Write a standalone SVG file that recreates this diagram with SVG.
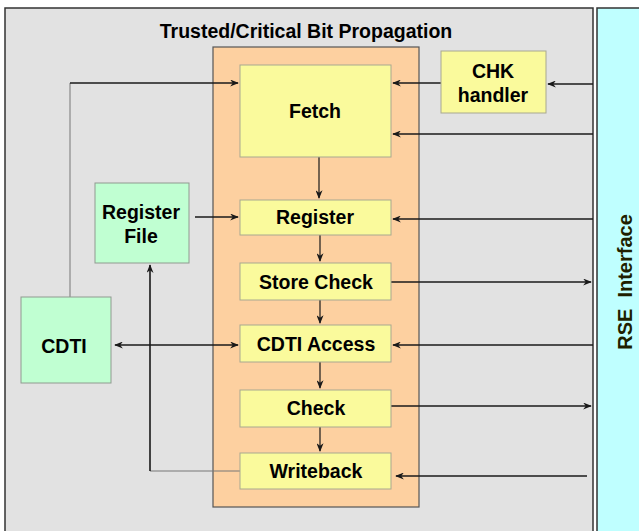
<svg xmlns="http://www.w3.org/2000/svg" width="639" height="531" viewBox="0 0 639 531">
<style>
text{font-family:"Liberation Sans",Arial,sans-serif;font-weight:bold;fill:#000;text-anchor:middle}
.t{font-size:19.5px}
.st{fill:#fafa9c;stroke:#a8a890;stroke-width:1}
.gr{fill:#c0ffd2;stroke:#909a90;stroke-width:1}
.ln{fill:none;stroke:#1a1a1a;stroke-width:1.6}
.thin{fill:none;stroke:#777;stroke-width:1}
</style>
<defs>
<marker id="ah" viewBox="0 0 10 8" refX="9" refY="4" markerWidth="9" markerHeight="7" markerUnits="userSpaceOnUse" orient="auto-start-reverse">
<path d="M0,0 L10,4 L0,8 L3,4 z" fill="#1a1a1a"/>
</marker>
</defs>
<rect width="639" height="531" fill="#fff"/>
<g id="frame">
<rect x="5" y="8" width="588" height="535" fill="#e2e2e2" stroke="#333" stroke-width="1.5"/>
<text class="t" x="306" y="38">Trusted/Critical Bit Propagation</text>
</g>
<g id="rse">
<rect x="597" y="8" width="50" height="535" fill="#bfffff" stroke="#333" stroke-width="1.5"/>
<text class="t" xml:space="preserve" transform="translate(632,282) rotate(-90)" style="fill:#1f1f00;font-size:20px">RSE  Interface</text>
</g>
<g id="pipeline">
<rect x="213" y="47" width="206" height="460" fill="#fdd0a0" stroke="#555" stroke-width="1.2"/>
</g>
<g id="connectors">
<path class="thin" d="M70,297 V83"/>
<path class="ln" d="M70,83 H238" marker-end="url(#ah)"/>
<path class="ln" d="M441,83 H393" marker-end="url(#ah)"/>
<path class="ln" d="M593,84 H548" marker-end="url(#ah)"/>
<path class="ln" d="M593,134 H393" marker-end="url(#ah)"/>
<path class="ln" d="M319,157 V198" marker-end="url(#ah)" style="stroke-width:1.2"/>
<path class="ln" d="M195,217 H238" marker-end="url(#ah)"/>
<path class="ln" d="M593,219 H393" marker-end="url(#ah)"/>
<path class="ln" d="M320,235 V261" marker-end="url(#ah)" style="stroke-width:1.2"/>
<path class="ln" d="M391,282 H591" marker-end="url(#ah)"/>
<path class="ln" d="M320,300 V323" marker-end="url(#ah)" style="stroke-width:1.2"/>
<path class="ln" d="M115,345 H238" marker-start="url(#ah)" marker-end="url(#ah)"/>
<path class="ln" d="M593,345 H393" marker-end="url(#ah)"/>
<path class="ln" d="M320,362 V388" marker-end="url(#ah)" style="stroke-width:1.2"/>
<path class="ln" d="M391,406 H591" marker-end="url(#ah)"/>
<path class="ln" d="M320,427 V451" marker-end="url(#ah)" style="stroke-width:1.2"/>
<path class="thin" d="M240,471 H150"/>
<path class="ln" d="M150,471 V265" marker-end="url(#ah)"/>
<path class="ln" d="M587,476 H396" marker-end="url(#ah)"/>
</g>
<g id="fetch">
<rect class="st" x="240" y="65" width="151" height="92"/>
<text class="t" x="315" y="118">Fetch</text>
</g>
<g id="chk">
<rect class="st" x="441" y="51" width="105" height="62"/>
<text class="t" x="493" y="78">CHK</text>
<text class="t" x="493" y="102">handler</text>
</g>
<g id="regfile">
<rect class="gr" x="95" y="183" width="94" height="80"/>
<text class="t" x="141" y="219">Register</text>
<text class="t" x="141" y="243">File</text>
</g>
<g id="register">
<rect class="st" x="240" y="200" width="151" height="35"/>
<text class="t" x="315" y="224">Register</text>
</g>
<g id="storecheck">
<rect class="st" x="240" y="263" width="151" height="37"/>
<text class="t" x="316" y="289">Store Check</text>
</g>
<g id="cdti">
<rect class="gr" x="21" y="297" width="90" height="86"/>
<text class="t" x="64" y="353">CDTI</text>
</g>
<g id="cdtiaccess">
<rect class="st" x="240" y="325" width="151" height="37"/>
<text class="t" x="316" y="351">CDTI Access</text>
</g>
<g id="check">
<rect class="st" x="240" y="390" width="151" height="37"/>
<text class="t" x="316" y="415">Check</text>
</g>
<g id="writeback">
<rect class="st" x="240" y="453" width="151" height="36"/>
<text class="t" x="316" y="478">Writeback</text>
</g>
</svg>
